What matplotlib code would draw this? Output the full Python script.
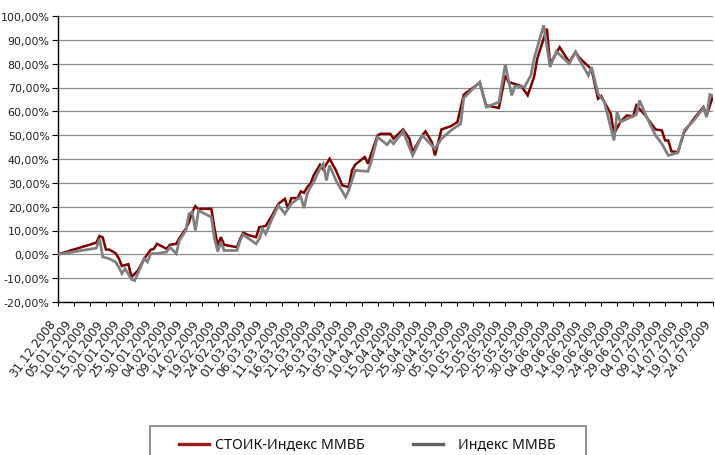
import matplotlib
matplotlib.use("Agg")
import matplotlib.pyplot as plt
import matplotlib.transforms as mtransforms
from matplotlib.ticker import FuncFormatter
from matplotlib.lines import Line2D
from matplotlib.patches import Rectangle
import pandas as pd

# ---------------- data ----------------
stoik_dates = [
    "2008-12-31", "2009-01-12", "2009-01-13", "2009-01-14", "2009-01-15", "2009-01-16",
    "2009-01-18", "2009-01-19", "2009-01-20", "2009-01-22", "2009-01-23", "2009-01-25",
    "2009-01-27", "2009-01-29", "2009-01-30", "2009-01-31", "2009-02-03", "2009-02-04",
    "2009-02-06", "2009-02-07", "2009-02-09", "2009-02-10", "2009-02-11", "2009-02-12",
    "2009-02-13", "2009-02-14", "2009-02-17", "2009-02-18", "2009-02-19", "2009-02-20",
    "2009-02-21", "2009-02-25", "2009-02-26", "2009-02-27", "2009-03-01", "2009-03-03",
    "2009-03-04", "2009-03-06", "2009-03-08", "2009-03-10", "2009-03-12", "2009-03-13",
    "2009-03-14", "2009-03-16", "2009-03-17", "2009-03-18", "2009-03-19", "2009-03-20",
    "2009-03-21", "2009-03-23", "2009-03-24", "2009-03-26", "2009-03-28", "2009-03-30",
    "2009-04-01", "2009-04-02", "2009-04-03", "2009-04-06", "2009-04-07", "2009-04-10",
    "2009-04-11", "2009-04-14", "2009-04-15", "2009-04-18", "2009-04-20", "2009-04-21",
    "2009-04-24", "2009-04-25", "2009-04-27", "2009-04-28", "2009-04-30", "2009-05-03",
    "2009-05-05", "2009-05-07", "2009-05-12", "2009-05-14", "2009-05-18", "2009-05-20",
    "2009-05-21", "2009-05-25", "2009-05-27", "2009-05-29", "2009-05-30", "2009-06-02",
    "2009-06-03", "2009-06-06", "2009-06-09", "2009-06-11", "2009-06-12", "2009-06-13",
    "2009-06-16", "2009-06-18", "2009-06-19", "2009-06-22", "2009-06-23", "2009-06-25",
    "2009-06-27", "2009-06-29", "2009-06-30", "2009-07-03", "2009-07-06", "2009-07-08",
    "2009-07-09", "2009-07-10", "2009-07-11", "2009-07-13", "2009-07-15", "2009-07-18",
    "2009-07-21", "2009-07-22", "2009-07-24",
]
stoik_values = [
    0.0, 4.9, 7.7, 7.1, 2.0, 2.0,
    0.5, -1.6, -4.9, -4.1, -9.5, -6.8,
    -1.8, 1.9, 2.3, 4.4, 2.3, 4.0,
    4.4, 6.8, 10.7, 13.5, 17.7, 20.2,
    18.8, 19.1, 19.1, 10.7, 3.7, 7.2,
    4.0, 3.0, 6.5, 9.0, 7.9, 7.2,
    11.4, 11.9, 16.3, 21.2, 23.3, 19.1,
    23.6, 23.6, 26.4, 25.8, 28.2, 29.6,
    33.1, 37.6, 35.6, 40.1, 35.2, 28.9,
    28.2, 35.2, 37.6, 40.8, 38.0, 49.9,
    50.6, 50.6, 48.5, 52.4, 48.5, 42.9,
    49.9, 51.6, 47.1, 41.5, 52.4, 53.8,
    55.5, 67.0, 72.0, 62.5, 61.4, 75.1,
    72.3, 70.6, 66.7, 74.4, 82.1, 94.7,
    79.9, 86.9, 80.7, 84.9, 82.8, 81.4,
    77.6, 65.3, 66.4, 59.0, 50.6, 55.5,
    58.3, 57.9, 62.5, 58.0, 52.4, 52.0,
    47.8, 47.8, 43.2, 42.9, 51.3, 56.9,
    61.8, 58.3, 66.4,
]

micex_dates = [
    "2008-12-31", "2009-01-12", "2009-01-13", "2009-01-14", "2009-01-16", "2009-01-18",
    "2009-01-19", "2009-01-20", "2009-01-21", "2009-01-23", "2009-01-24", "2009-01-27",
    "2009-01-28", "2009-01-29", "2009-01-31", "2009-02-03", "2009-02-04", "2009-02-06",
    "2009-02-07", "2009-02-09", "2009-02-10", "2009-02-11", "2009-02-12", "2009-02-13",
    "2009-02-17", "2009-02-18", "2009-02-19", "2009-02-20", "2009-02-21", "2009-02-25",
    "2009-02-26", "2009-02-27", "2009-03-03", "2009-03-04", "2009-03-05", "2009-03-06",
    "2009-03-08", "2009-03-10", "2009-03-12", "2009-03-14", "2009-03-16", "2009-03-17",
    "2009-03-18", "2009-03-19", "2009-03-20", "2009-03-21", "2009-03-23", "2009-03-24",
    "2009-03-25", "2009-03-26", "2009-03-28", "2009-03-31", "2009-04-01", "2009-04-03",
    "2009-04-07", "2009-04-08", "2009-04-10", "2009-04-13", "2009-04-14", "2009-04-15",
    "2009-04-18", "2009-04-21", "2009-04-24", "2009-04-28", "2009-04-30", "2009-05-03",
    "2009-05-06", "2009-05-07", "2009-05-12", "2009-05-14", "2009-05-16", "2009-05-18",
    "2009-05-20", "2009-05-22", "2009-05-23", "2009-05-26", "2009-05-28", "2009-05-29",
    "2009-06-01", "2009-06-03", "2009-06-05", "2009-06-09", "2009-06-11", "2009-06-12",
    "2009-06-15", "2009-06-16", "2009-06-18", "2009-06-20", "2009-06-23", "2009-06-24",
    "2009-06-25", "2009-06-30", "2009-07-01", "2009-07-03", "2009-07-06", "2009-07-08",
    "2009-07-10", "2009-07-13", "2009-07-15", "2009-07-18", "2009-07-21", "2009-07-22",
    "2009-07-23", "2009-07-24",
]
micex_values = [
    0.0, 2.6, 6.5, -1.1, -1.8, -3.2,
    -5.3, -8.1, -6.0, -10.5, -11.0, -1.8,
    -3.2, 0.3, 0.3, 1.0, 3.0, 0.3,
    5.8, 10.0, 17.0, 17.7, 10.0, 18.4,
    15.6, 6.5, 1.2, 5.2, 1.6, 1.6,
    5.8, 8.2, 4.4, 6.5, 10.7, 8.6,
    14.9, 20.5, 17.0, 21.2, 23.3, 24.0,
    19.4, 25.4, 28.2, 30.3, 36.0, 38.0,
    31.0, 37.3, 31.0, 24.0, 26.8, 35.2,
    34.8, 38.7, 49.2, 46.0, 47.8, 46.4,
    51.6, 41.5, 49.9, 44.3, 48.5, 52.0,
    54.8, 65.6, 72.3, 61.8, 62.8, 63.9,
    79.6, 66.7, 70.6, 70.2, 75.1, 82.1,
    96.1, 78.6, 85.1, 80.0, 84.9, 82.1,
    75.1, 78.6, 67.4, 63.9, 47.8, 59.7,
    55.5, 58.6, 64.6, 58.3, 49.9, 46.4,
    41.5, 42.6, 52.0, 56.2, 61.4, 57.6,
    67.0, 66.4,
]

series_labels = ["СТОИК-Индекс ММВБ", "Индекс ММВБ"]
y_ticks = [-20, -10, 0, 10, 20, 30, 40, 50, 60, 70, 80, 90, 100]
x_start, x_end = "2008-12-31", "2009-07-24"

# ---------------- figure ----------------
W, H = 715, 456
fig = plt.figure(figsize=(W / 100, H / 100), dpi=100)
ax = fig.add_axes([58 / W, 1 - 303 / H, (713 - 58) / W, (303 - 17) / H])

red = "#7f0000"
gray = "#808080"

ax.plot(pd.to_datetime(stoik_dates), stoik_values, color=red, lw=1.8,
        solid_joinstyle="miter", zorder=3)
ax.plot(pd.to_datetime(micex_dates), micex_values, color=gray, lw=2.0,
        solid_joinstyle="miter", zorder=4)

ax.set_ylim(y_ticks[0], y_ticks[-1])
ax.set_yticks(y_ticks)
ax.yaxis.set_major_formatter(FuncFormatter(lambda v, p: f"{v:.2f}".replace(".", ",") + "%"))
ax.grid(axis="y", color="#8c8c8c", lw=0.9)
ax.set_axisbelow(True)

for s in ["top", "right"]:
    ax.spines[s].set_visible(False)
for s in ["left", "bottom"]:
    ax.spines[s].set_color("black")
    ax.spines[s].set_linewidth(1.0)
ax.tick_params(axis="x", length=3, width=0.8, pad=10.5)
ax.tick_params(axis="y", length=4, width=0.8, labelsize=7.9, labelcolor="#222222", pad=2)

xs = pd.Timestamp(x_start)
xe = pd.Timestamp(x_end)
ax.set_xlim(xs, xe)
xt = pd.date_range(xs, xe, freq="5D")
ax.set_xticks(xt)
ax.set_xticklabels([d.strftime("%d.%m.%Y") for d in xt])
offset = mtransforms.ScaledTranslation(-5 / 100, 0, fig.dpi_scale_trans)
for lab in ax.get_xticklabels():
    lab.set_rotation(53)
    lab.set_rotation_mode("anchor")
    lab.set_ha("right")
    lab.set_va("center")
    lab.set_fontsize(8.6)
    lab.set_color("#222222")
    lab.set_transform(lab.get_transform() + offset)

# legend box (partially clipped by the figure bottom like the reference)
fig.patches.append(Rectangle((150 / W, -0.05), (586 - 150) / W, (H - 427) / H + 0.05,
                             transform=fig.transFigure, fill=False,
                             edgecolor="#7f7f7f", lw=1.2))
ly = 1 - 445 / H
leg_colors = ["#9b1c1c", "#606060"]
leg_line_x = [(179, 209), (413, 443)]
leg_text_x = [215, 458]
for lab, c, (x0, x1), tx in zip(series_labels, leg_colors, leg_line_x, leg_text_x):
    fig.add_artist(Line2D([x0 / W, x1 / W], [ly, ly], color=c, lw=2.4,
                          transform=fig.transFigure))
    fig.text(tx / W, ly, lab, ha="left", va="center", family="Noto Sans",
             fontsize=10.2, color="#111111")

fig.savefig("out.png", dpi=100)
